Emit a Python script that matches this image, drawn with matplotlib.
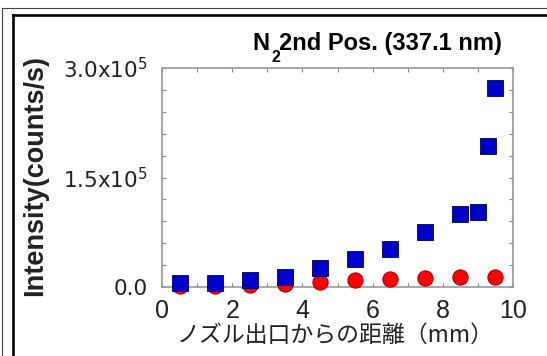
import numpy as np
import matplotlib
matplotlib.use("Agg")
import matplotlib.pyplot as plt
from matplotlib.lines import Line2D
from matplotlib.ticker import MultipleLocator

plt.rcParams['font.family'] = ['Liberation Sans', 'Noto Sans CJK JP', 'DejaVu Sans']

# N2 2nd positive band (337.1 nm)
dist_blue = [0.5, 1.5, 2.5, 3.5, 4.5, 5.5, 6.5, 7.5, 8.5, 9.0, 9.3, 9.5]
intensity_blue = [5.9e3, 5.9e3, 9.6e3, 1.41e4, 2.64e4, 3.84e4, 5.2e4,
                  7.5e4, 1.0e5, 1.03e5, 1.93e5, 2.73e5]
dist_red = [0.5, 1.5, 2.5, 3.5, 4.5, 5.5, 6.5, 7.5, 8.5, 9.5]
intensity_red = [1.5e3, 1.5e3, 2.5e3, 4.0e3, 7.0e3, 9.6e3, 1.14e4,
                 1.19e4, 1.41e4, 1.32e4]

xticks = [0, 2, 4, 6, 8, 10]
yticks = [0, 1.5e5, 3.0e5]
ytick_labels = ["0.0", "1.5x10$^5$", "3.0x10$^5$"]

W, H = 547, 356
fig = plt.figure(figsize=(W / 100, H / 100), dpi=100)
ax = fig.add_axes([162 / W, 1 - 287 / H, 351 / W, 219 / H])

# surrounding frame lines (thin outer, thick inner)
fig.add_artist(Line2D([2 / W, 2 / W], [0, 1 - 8 / H], transform=fig.transFigure,
                      color='#444444', lw=0.8))
fig.add_artist(Line2D([2 / W, 1], [1 - 8 / H, 1 - 8 / H], transform=fig.transFigure,
                      color='#444444', lw=0.8))
fig.add_artist(Line2D([12.7 / W, 12.7 / W], [0, 1 - 15 / H], transform=fig.transFigure,
                      color='black', lw=1.9))
fig.add_artist(Line2D([12.7 / W, 1], [1 - 15 / H, 1 - 15 / H], transform=fig.transFigure,
                      color='black', lw=1.9))

ax.plot(dist_red, intensity_red, 'o', color='#ff0000', markeredgecolor='#a00000',
        markeredgewidth=0.7, markersize=11, clip_on=False, zorder=3)
ax.plot(dist_blue, intensity_blue, 's', color='#0000cc', markeredgecolor='#000060',
        markeredgewidth=0.6, markersize=12, clip_on=False, zorder=4)

ax.set_xlim(0, 10)
ax.set_ylim(0, 3.0e5)
ax.set_xticks(xticks)
ax.set_xticklabels([str(t) for t in xticks], fontsize=18)
ax.set_yticks(yticks)
ax.set_yticklabels(ytick_labels, fontsize=15.5, family='DejaVu Sans')
ax.xaxis.set_minor_locator(MultipleLocator(1))
ax.yaxis.set_minor_locator(MultipleLocator(3e4))
ax.tick_params(which='both', direction='in', top=True, right=True,
               length=3, width=0.8, color='#888888')
ax.tick_params(axis='x', pad=9, colors='#888888', labelcolor='#222222')
ax.tick_params(axis='y', pad=10, colors='#888888', labelcolor='#222222')
for sp in ax.spines.values():
    sp.set_color('#999999')
    sp.set_linewidth(1.2)

# title with N2 subscript placed by hand
fig.text(252.7 / W, 1 - 50 / H, "N", fontsize=17, fontweight='bold', va='baseline')
fig.text(271.5 / W, 1 - 62.5 / H, "2", fontsize=11.5, fontweight='bold', va='baseline')
fig.text(279.3 / W, 1 - 50 / H, "2nd Pos. (337.1 nm)", fontsize=17,
         fontweight='bold', va='baseline')

fig.text(35 / W, 1 - 176 / H, "Intensity(counts/s)", rotation=90, ha='center',
         va='center', fontsize=19.5, fontweight='bold', color='#222222')
fig.text(335 / W, 1 - 335 / H, "ノズル出口からの距離（mm）", ha='center', va='center',
         fontsize=16.5, family=['Noto Sans CJK JP', 'DejaVu Sans'], color='#222222')

fig.savefig('out.png', dpi=100)
